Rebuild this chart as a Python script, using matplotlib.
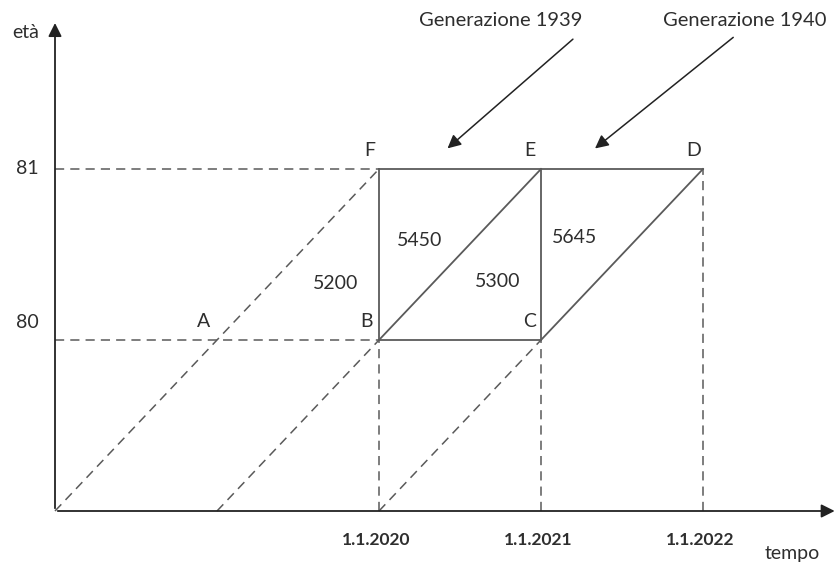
import numpy as np
import matplotlib.pyplot as plt

plt.rcParams['font.family'] = ['Lato', 'DejaVu Sans']

# Lexis diagram data
anni = [2020, 2021, 2022]
eta = [80, 81]
etichette_anni = ['1.1.2020', '1.1.2021', '1.1.2022']
punti = ['F', 'E', 'D', 'A', 'B', 'C']
punti_x = [2019.94, 2020.93, 2021.94, 2018.92, 2019.92, 2020.93]
punti_y = [81.11, 81.11, 81.11, 80.11, 80.11, 80.11]
conteggi = ['5200', '5450', '5300', '5645']
conteggi_x = [2019.73, 2020.25, 2020.73, 2021.21]
conteggi_y = [80.33, 80.58, 80.34, 80.60]
generazioni = ['Generazione 1939', 'Generazione 1940']

x0, y0 = 2018, 79
lc = '#5a5a5a'
tc = '#2e2e2e'

fig = plt.figure(figsize=(8.37, 5.79), dpi=100)
ax = fig.add_axes([0, 0, 1, 1])
ax.set_xlim(2020 - 379/162, 2020 + 458/162)
ax.set_ylim(81 - 410/171, 81 + 169/171)
ax.axis('off')

# axes with arrows
ax.annotate('', xy=(2022.83, y0), xytext=(x0, y0),
            arrowprops=dict(arrowstyle='-|>', color='#222222', lw=1.3, mutation_scale=20))
ax.annotate('', xy=(x0, 81.87), xytext=(x0, y0),
            arrowprops=dict(arrowstyle='-|>', color='#222222', lw=1.3, mutation_scale=20))
ax.text(2022.55, 78.75, 'tempo', fontsize=14, color=tc, ha='center', va='center')
ax.text(2017.82, 81.80, 'età', fontsize=14, color=tc, ha='center', va='center')

dash = dict(color=lc, lw=1.1, ls=(0, (6, 4)))
solid = dict(color=lc, lw=1.3)

# dashed guides
ax.plot([x0, anni[0]], [eta[1], eta[1]], **dash)
ax.plot([x0, anni[0]], [eta[0], eta[0]], **dash)
ax.plot([anni[0], anni[0]], [y0, eta[0]], **dash)
ax.plot([anni[1], anni[1]], [y0, eta[0]], **dash)
ax.plot([anni[2], anni[2]], [y0, eta[1]], **dash)
# dashed life lines
ax.plot([x0, anni[0]], [y0, eta[1]], **dash)
ax.plot([x0 + 1, anni[0]], [y0, eta[0]], **dash)
ax.plot([anni[0], anni[1]], [y0, eta[0]], **dash)

# solid lines
ax.plot([anni[0], anni[2]], [eta[1], eta[1]], **solid)
ax.plot([anni[0], anni[1]], [eta[0], eta[0]], **solid)
ax.plot([anni[0], anni[0]], [eta[0], eta[1]], **solid)
ax.plot([anni[1], anni[1]], [eta[0], eta[1]], **solid)
ax.plot([anni[0], anni[1]], [eta[0], eta[1]], **solid)
ax.plot([anni[1], anni[2]], [eta[0], eta[1]], **solid)

# tick labels
for a, lab in zip(anni, etichette_anni):
    ax.text(a - 0.015, 78.83, lab, fontsize=12.5, color=tc, ha='center', va='center',
            fontweight='bold')
ax.text(2017.83, 81.0, str(eta[1]), fontsize=14, color=tc, ha='center', va='center')
ax.text(2017.83, 80.10, str(eta[0]), fontsize=14, color=tc, ha='center', va='center')

for p, px, py in zip(punti, punti_x, punti_y):
    ax.text(px, py, p, fontsize=14, color=tc, ha='center', va='center')
for c, cx, cy in zip(conteggi, conteggi_x, conteggi_y):
    ax.text(cx, cy, c, fontsize=14, color=tc, ha='center', va='center')

# generation arrows
ax.annotate('', xy=(2020.41, 81.11), xytext=(2021.21, 81.77),
            arrowprops=dict(arrowstyle='-|>', color='#222222', lw=1.1, mutation_scale=20))
ax.annotate('', xy=(2021.32, 81.11), xytext=(2022.20, 81.78),
            arrowprops=dict(arrowstyle='-|>', color='#222222', lw=1.1, mutation_scale=20))
ax.text(2020.75, 81.87, generazioni[0], fontsize=14.5, color=tc, ha='center', va='center')
ax.text(2022.26, 81.87, generazioni[1], fontsize=14.5, color=tc, ha='center', va='center')

fig.savefig('out.png', dpi=100)
